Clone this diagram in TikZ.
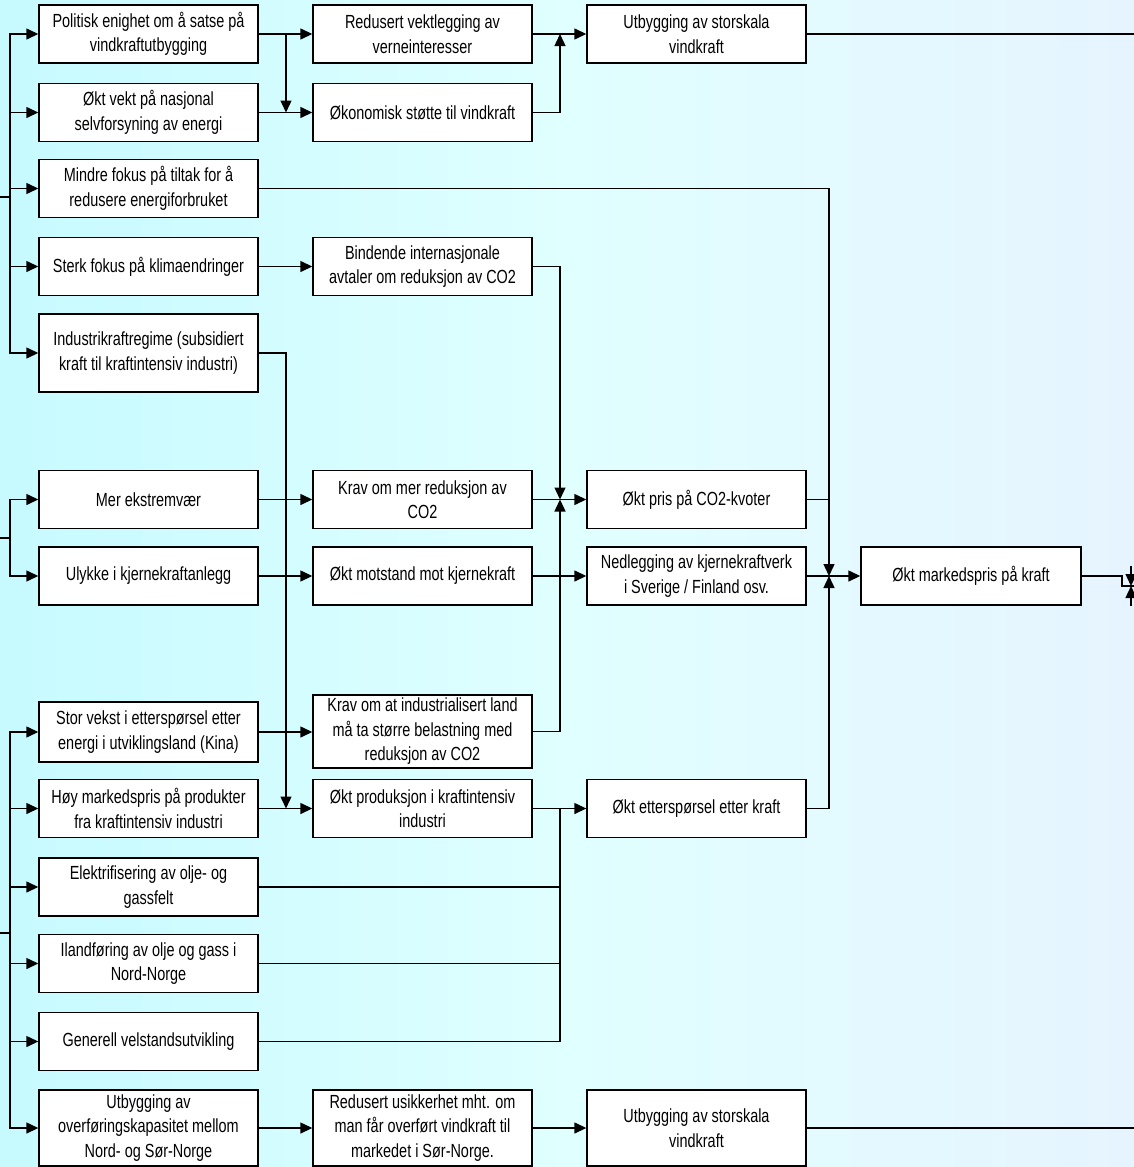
\documentclass[tikz,border=0pt]{standalone}
\usepackage{fontspec}
\setmainfont{Liberation Sans}[FakeStretch=0.76]
\usetikzlibrary{arrows.meta,calc}
\definecolor{bgL}{RGB}{198,250,255}
\definecolor{bgM}{RGB}{224,255,255}
\definecolor{bgR}{RGB}{230,244,255}
\begin{document}
\begin{tikzpicture}[x=1pt,y=-1pt]
\tikzset{
 box/.style={draw=black, line width=1.4pt, fill=white, minimum width=219pt, minimum height=58pt,
   inner sep=0pt, align=center, font=\fontsize{19}{24.5}\selectfont},
 arr/.style={line width=1.4pt, -{Triangle[length=12pt,width=11pt]}},
 ln/.style={line width=1.4pt},
}
\useasboundingbox (0,0) rectangle (1134,1167);
\shade[left color=bgL, right color=bgR, middle color=bgM] (0,0) rectangle (1134,1167);

% column 1
\node[box] (n1) at (148.5,34) {Politisk enighet om å satse på\\vindkraftutbygging};
\node[box] (n2) at (148.5,112.5) {Økt vekt på nasjonal\\selvforsyning av energi};
\node[box] (n3) at (148.5,188.5) {Mindre fokus på tiltak for å\\redusere energiforbruket};
\node[box] (n4) at (148.5,266.5) {Sterk fokus på klimaendringer};
\node[box, minimum height=78pt] (n5) at (148.5,353) {Industrikraftregime (subsidiert\\kraft til kraftintensiv industri)};
\node[box] (n6) at (148.5,499.5) {Mer ekstremvær};
\node[box] (n7) at (148.5,576) {Ulykke i kjernekraftanlegg};
\node[box, minimum height=60pt] (n8) at (148.5,732) {Stor vekst i etterspørsel etter\\energi i utviklingsland (Kina)};
\node[box] (n9) at (148.5,808.5) {Høy markedspris på produkter\\fra kraftintensiv industri};
\node[box] (n10) at (148.5,887) {Elektrifisering av olje- og\\gassfelt};
\node[box] (n11) at (148.5,963.5) {Ilandføring av olje og gass i\\Nord-Norge};
\node[box] (n12) at (148.5,1041.5) {Generell velstandsutvikling};
\node[box, minimum height=76pt] (n13) at (148.5,1128) {Utbygging av\\overføringskapasitet mellom\\Nord- og Sør-Norge};

% column 2
\node[box] (A) at (422.5,34) {Redusert vektlegging av\\verneinteresser};
\node[box] (B) at (422.5,112.5) {Økonomisk støtte til vindkraft};
\node[box] (C) at (422.5,266.5) {Bindende internasjonale\\avtaler om reduksjon av CO2};
\node[box] (D) at (422.5,499.5) {Krav om mer reduksjon av\\CO2};
\node[box] (E) at (422.5,576) {Økt motstand mot kjernekraft};
\node[box, minimum height=73pt] (F) at (422.5,731.5) {Krav om at industrialisert land\\må ta større belastning med\\reduksjon av CO2};
\node[box] (G) at (422.5,808.5) {Økt produksjon i kraftintensiv\\industri};
\node[box, minimum height=76pt] (I) at (422.5,1128) {Redusert usikkerhet mht. om\\man får overført vindkraft til\\markedet i Sør-Norge.};

% column 3
\node[box] (K) at (696.5,34) {Utbygging av storskala\\vindkraft};
\node[box] (L) at (696.5,499.5) {Økt pris på CO2-kvoter};
\node[box] (M) at (696.5,576) {Nedlegging av kjernekraftverk\\i Sverige / Finland osv.};
\node[box] (H) at (696.5,808.5) {Økt etterspørsel etter kraft};
\node[box, minimum height=76pt] (J) at (696.5,1128) {Utbygging av storskala\\vindkraft};

% column 4
\node[box, minimum width=220pt] (N) at (971,576) {Økt markedspris på kraft};

% helper coordinates
\coordinate (bx) at (10,0);
\coordinate (v1) at (286,0);
\coordinate (v2) at (560,0);
\coordinate (v3) at (829,0);
\coordinate (rE) at (1134,0);
\coordinate (s1) at (0,197);
\coordinate (s2) at (0,538);
\coordinate (s3) at (0,933);
\coordinate (q1) at (1122,586);
\coordinate (q2) at (1131,586);

% left buses
\foreach \n in {n1,n2,n3,n4,n5} \draw[arr] (s1) -- (s1 -| bx) |- (\n.west);
\foreach \n in {n6,n7} \draw[arr] (s2) -- (s2 -| bx) |- (\n.west);
\foreach \n in {n8,n9,n10,n11,n12,n13} \draw[arr] (s3) -- (s3 -| bx) |- (\n.west);

% top group
\draw[arr] (n1) -- (A);
\draw[arr] (n1.east -| v1) -- (n2.east -| v1);
\draw[arr] (n2) -- (B);
\draw[arr] (A) -- (K);
\draw[arr] (B.east) -| (A.east -| v2);
\draw[ln] (K.east) -- (K.east -| rE);
\draw[arr] (n3.east) -| (N.west -| v3);
\draw[arr] (n4) -- (C);
\draw[arr] (C.east) -| (D.east -| v2);
\draw[arr] (n5.east) -| (G.west -| v1);

% middle group
\draw[arr] (n6) -- (D);
\draw[arr] (n7) -- (E);
\draw[arr] (D) -- (L);
\draw[arr] (F.east) -| (D.east -| v2);
\draw[ln] (L.east) -- (L.east -| v3);
\draw[arr] (E) -- (M);
\draw[arr] (M) -- (N);
\draw[arr] (H.east) -| (N.west -| v3);
\draw[ln] (N.east) -| (q1) -- (q1 -| rE);
\draw[arr] ($(q2)+(0,-20)$) -- (q2);
\draw[arr] ($(q2)+(0,20)$) -- (q2);

% bottom group
\draw[arr] (n8.east) -- (n8.east -| F.west);
\draw[arr] (n9) -- (G);
\draw[arr] (G) -- (H);
\foreach \n in {n10,n11,n12} \draw[ln] (\n.east) -| (G.east -| v2);
\draw[arr] (n13) -- (I);
\draw[arr] (I) -- (J);
\draw[ln] (J.east) -- (J.east -| rE);
\end{tikzpicture}
\end{document}
